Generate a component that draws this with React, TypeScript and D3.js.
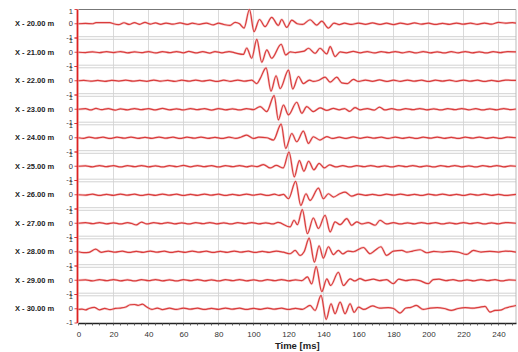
import React, { useEffect, useRef } from 'react'
import * as d3 from 'd3'

// receiver offsets (m), one trace per offset
const offsets = ['20.00', '21.00', '22.00', '23.00', '24.00', '25.00', '26.00', '27.00', '28.00', '29.00', '30.00']
const timeTicks = [0, 20, 40, 60, 80, 100, 120, 140, 160, 180, 200, 220, 240]
const ampTicks = [-1, 0, 1]

// [time ms, normalised amplitude] (peaks and troughs)
const trace20 = [[0,0],[4,0.02],[8,0],[10,0.08],[18,0.08],[20,0],[23,-0.06],[26,0.07],[29,-0.05],[32,0.08],[35,-0.04],[38,0.1],[41,-0.02],[44,0.06],[47,-0.04],[50,0.05],[54,-0.03],[58,0.06],[62,-0.05],[65,0.04],[69,-0.04],[73,0.05],[77,-0.08],[80,0.04],[83,-0.05],[86.6,-0.12],[89.5,0.1],[92,0.0],[94.6,-0.3],[97.7,1.0],[100.3,-0.55],[103.4,0.3],[106.6,-0.2],[110.4,0.45],[114.2,-0.12],[116.1,0.3],[119,-0.25],[121.9,0.25],[125,0],[128,-0.05],[132.3,0.28],[136.1,-0.1],[139,0.18],[142.8,-0.3],[146,0.05],[149,-0.06],[152,0.04],[156,-0.05],[160,0.05],[164,-0.04],[168,0.06],[172,-0.05],[176,0.04],[180,-0.06],[184,0.05],[188,-0.04],[192,0.06],[196,-0.03],[200,0.04],[204,-0.05],[208,0.03],[212,-0.04],[216,0.05],[220,-0.03],[224,0.04],[228,-0.04],[232,0.05],[236,-0.03],[240,0.1],[244,0.04],[248,0.08],[250,0.05]]
const trace21 = [[0,0],[4,-0.02],[8,0.03],[12,-0.03],[16,0.04],[20,-0.02],[24,0.05],[28,-0.04],[32,0.03],[36,-0.03],[40,0.05],[44,-0.05],[48,0.04],[52,-0.03],[56,0.05],[60,-0.04],[63,0.06],[67,-0.05],[71,0.04],[75,-0.06],[78,0.05],[82,-0.04],[86,0.05],[90,-0.06],[94.2,-0.15],[96.1,0.3],[99,-0.42],[101.9,0.91],[104.7,-0.7],[107.6,0.16],[110.4,-0.42],[115.8,0.56],[118.4,-0.19],[121,0.02],[124,-0.02],[126.6,0.03],[129,0.08],[131.4,0.28],[135.2,-0.08],[138,0.28],[141.9,-0.12],[143.8,0.4],[146.6,-0.3],[149.5,0.02],[153,-0.04],[157,0.06],[161,-0.04],[165,0.05],[169,-0.05],[173,0.04],[177,-0.03],[181,0.05],[185,-0.04],[189,0.04],[193,-0.05],[197,0.05],[201,-0.04],[205,0.03],[209,-0.05],[213,0.04],[217,-0.04],[221,0.05],[225,-0.04],[229,0.03],[233,-0.05],[237,0.04],[241,-0.03],[245,0.04],[250,0.02]]
const trace22 = [[0,0],[3,0.03],[7,-0.03],[11,0.02],[15,-0.04],[19,0.03],[23,-0.02],[27,0.04],[31,-0.03],[35,0.02],[39,-0.04],[43,0.05],[47,-0.03],[51,0.03],[55,-0.04],[59,0.04],[63,-0.03],[67,0.05],[71,-0.03],[75,0.04],[79,-0.05],[83,0.04],[87,-0.04],[91,0.05],[95,-0.03],[99,0.04],[101.9,-0.2],[103.8,0.15],[107.2,0.91],[110,-0.73],[112.9,0.35],[115.2,-0.55],[120,0.75],[122.4,-0.58],[125.7,0.3],[128.5,-0.2],[132,0.05],[134.2,-0.05],[137,0.02],[140.9,0.25],[143.8,-0.1],[147.6,0.25],[150.4,-0.15],[153.7,-0.2],[157.1,0.1],[160,-0.05],[164,0.05],[168,-0.04],[172,0.06],[176,-0.05],[180,0.04],[184,-0.04],[188,0.05],[192,-0.03],[196,0.04],[200,-0.05],[204,0.04],[208,-0.03],[212,0.04],[216,-0.04],[220,0.05],[224,-0.03],[228,0.04],[232,-0.05],[236,0.03],[240,-0.04],[244,0.05],[250,0.02]]
const trace23 = [[0,0],[4,0.04],[7,-0.05],[10,0.06],[13,-0.03],[17,0.05],[21,-0.06],[24,0.03],[28,-0.04],[32,0.05],[36,-0.03],[40,0.04],[44,-0.05],[48,0.06],[52,-0.04],[56,0.03],[60,-0.05],[64,0.05],[68,-0.03],[72,0.04],[76,-0.06],[80,0.05],[84,-0.04],[88,0.03],[92,-0.05],[96,0.04],[100,-0.03],[103.8,0.19],[107.6,-0.16],[111.8,0.96],[114.2,-0.75],[117.1,0.3],[120,-0.4],[124.7,0.49],[127.6,-0.28],[130.4,0.19],[134.2,-0.16],[138,0.1],[141.9,-0.08],[145.7,0.06],[149,-0.04],[152,0.05],[155,-0.15],[158,0.12],[161,-0.04],[165,0.05],[169,-0.06],[172,0.15],[175,-0.05],[179,0.04],[183,-0.05],[187,0.04],[191,-0.03],[195,0.05],[199,-0.04],[203,0.03],[207,-0.05],[211,0.04],[215,-0.03],[219,0.05],[223,-0.04],[227,0.04],[231,-0.05],[235,0.03],[239,-0.04],[243,0.05],[247,-0.03],[250,0.02]]
const trace24 = [[0,0],[3,-0.04],[6,0.05],[10,-0.03],[14,0.04],[18,-0.05],[22,0.04],[26,-0.03],[30,0.05],[34,-0.04],[38,0.03],[42,-0.04],[46,0.05],[50,-0.03],[54,0.04],[58,-0.05],[62,0.04],[66,-0.03],[70,0.05],[74,-0.04],[78,0.03],[82,-0.05],[86,0.04],[90,-0.04],[93,0.05],[96.1,0.19],[99.9,-0.05],[103,0.04],[107.6,0],[111.4,-0.16],[115.8,0.96],[118.4,-0.75],[121.9,0.3],[124.7,-0.28],[128.5,0.47],[131.4,-0.4],[134.2,0.07],[138,-0.16],[141.9,0.08],[145,-0.05],[149,0.04],[153,-0.05],[157,0.06],[161,-0.04],[165,0.05],[169,-0.03],[173,0.04],[177,-0.05],[181,0.05],[185,-0.04],[189,0.03],[193,-0.05],[197,0.04],[201,-0.03],[205,0.05],[209,-0.04],[213,0.03],[217,-0.05],[221,0.04],[225,-0.03],[229,0.05],[233,-0.04],[237,0.03],[241,-0.05],[245,0.04],[250,0]]
const trace25 = [[0,0],[4,0.03],[8,-0.04],[12,0.05],[16,-0.03],[20,0.04],[24,-0.05],[28,0.04],[32,-0.03],[36,0.05],[40,-0.04],[44,0.03],[48,-0.05],[52,0.04],[56,-0.03],[60,0.06],[64,-0.04],[68,0.05],[72,-0.03],[76,0.04],[80,-0.05],[84,0.04],[88,-0.03],[92,0.05],[96,-0.04],[99,0.03],[102,-0.03],[105.7,0.12],[109.5,-0.12],[113,0.06],[117,-0.12],[120.3,1.0],[123.3,-0.75],[126.2,0.4],[128.8,-0.35],[131.5,0.35],[134.5,-0.25],[137.5,0.2],[140.5,-0.12],[143.5,0.1],[147,-0.05],[151,0.04],[155,-0.05],[159,0.04],[163,-0.03],[167,0.05],[171,-0.04],[175,0.03],[179,-0.05],[183,0.04],[187,-0.03],[191,0.05],[195,-0.04],[199,0.03],[203,-0.05],[207,0.04],[211,-0.03],[215,0.05],[219,-0.04],[223,0.03],[227,-0.05],[231,0.04],[235,-0.03],[239,0.05],[243,-0.04],[247,0.03],[250,0]]
const trace26 = [[0,0],[4,-0.03],[8,0.04],[12,-0.05],[16,0.03],[20,-0.04],[24,0.05],[28,-0.03],[32,0.04],[36,-0.05],[40,0.03],[44,-0.04],[48,0.05],[52,-0.03],[56,0.04],[60,-0.05],[64,0.03],[68,-0.04],[72,0.05],[76,-0.03],[80,0.04],[84,-0.05],[88,0.03],[92,-0.04],[96,0.05],[100,-0.03],[104,0.04],[108,-0.05],[112,0.04],[114.5,-0.04],[117.1,0.03],[120,-0.28],[124.1,0.94],[127,-0.75],[130,0.07],[132.3,-0.4],[137.1,0.47],[139.9,-0.28],[142.8,0.07],[145.7,-0.16],[149,0.05],[152.3,0.19],[156.1,-0.1],[160,0.05],[164,-0.04],[168,0.03],[172,-0.05],[176,0.04],[180,-0.03],[184,0.05],[188,-0.04],[192,0.03],[196,-0.05],[200,0.04],[204,-0.03],[208,0.05],[212,-0.04],[216,0.03],[220,-0.05],[224,0.04],[228,-0.03],[232,0.05],[236,-0.04],[240,0.03],[244,-0.05],[250,0.02]]
const trace27 = [[0,0],[4,0.04],[8,-0.03],[12,0.05],[16,-0.04],[20,0.03],[24,-0.05],[28,0.04],[30.5,-0.02],[33,-0.12],[36,0.08],[39,-0.05],[43,0.04],[47,-0.03],[51,0.05],[55,-0.04],[59,0.03],[63,-0.05],[67,0.04],[71,-0.03],[75,0.05],[79,-0.04],[83,0.03],[87,-0.05],[91,0.04],[95,-0.03],[99,0.05],[103,-0.04],[107,0.03],[111,-0.05],[114,0.06],[120.9,-0.26],[123.2,0.21],[125.1,-0.1],[127.9,0.96],[130.8,-0.73],[134.2,0.37],[137.1,-0.37],[140.9,0.56],[143.8,-0.61],[146.6,0.1],[149.5,-0.1],[153.3,0.33],[156.1,-0.14],[159,0.1],[162,-0.05],[165.5,0.05],[169.5,-0.14],[172.3,0.21],[176,-0.05],[180,0.04],[184,-0.05],[188,0.03],[192,-0.04],[196,0.05],[200,-0.03],[204,0.04],[208,-0.05],[212,0.03],[216,-0.04],[220,0.05],[224,-0.03],[228,0.04],[232,-0.05],[236,0.03],[240,-0.04],[244,0.05],[250,0]]
const trace28 = [[0,0],[3,-0.06],[6,-0.04],[9.8,0.18],[13,-0.04],[17,0.05],[21,-0.03],[25,0.04],[29,-0.05],[33,0.03],[37,-0.04],[41,0.05],[45,-0.03],[49,0.04],[53,-0.05],[57,0.03],[61,-0.04],[65,0.05],[69,-0.03],[73,0.04],[77,-0.05],[81,0.03],[85,-0.04],[89,0.05],[93,-0.03],[97,0.04],[101,-0.05],[105,0.03],[109,-0.04],[113,0.05],[117,-0.03],[120.9,-0.14],[123.8,0.09],[126.6,-0.26],[129,0.02],[131.8,0.96],[134.8,-0.73],[137.5,0.42],[139.9,-0.45],[142.8,0.35],[145.7,-0.2],[148.5,0.1],[151,-0.15],[154,0.05],[157,0],[162.8,0.3],[166.6,-0.14],[169,0.05],[172.8,0.35],[176,-0.26],[180,0.05],[184.8,0.1],[187.6,-0.03],[191,0.05],[195.2,0.14],[199,-0.07],[203,0.02],[208,-0.02],[213,0.03],[217,-0.03],[221.8,-0.19],[225.7,0.09],[230,-0.02],[235,0.03],[240,-0.02],[244,0.05],[250,-0.02]]
const trace29 = [[0,0],[4,0.03],[8,-0.04],[12,0.04],[16,-0.03],[20,0.05],[24,-0.04],[28,0.03],[32,-0.05],[36,0.04],[40,-0.03],[44,0.05],[48,-0.04],[52,0.03],[56,-0.05],[60,0.04],[64,-0.03],[68,0.05],[72,-0.04],[76,0.03],[80,-0.05],[84,0.04],[88,-0.03],[92,0.05],[96,-0.04],[100,0.03],[104,-0.05],[108,0.04],[112,-0.03],[116,0.05],[120,-0.04],[124,0.03],[127.5,-0.03],[130.8,0.23],[133.3,-0.26],[135.8,0.96],[139,-0.8],[141.9,0.1],[144.1,-0.37],[148.5,0.56],[151.4,-0.37],[155.2,0.1],[158,-0.05],[160.8,0.12],[164,-0.03],[168.5,0.08],[172,-0.03],[176,0.04],[179.9,-0.24],[183,0.08],[187,-0.03],[191,0.04],[195,-0.03],[199.9,-0.24],[202.7,0.05],[206,0.08],[210,-0.03],[214,0.04],[218,-0.05],[222,0.03],[226,-0.04],[230,0.05],[234,-0.03],[238,0.04],[242,-0.05],[246,0.03],[250,0]]
const trace30 = [[0,-0.05],[2,-0.02],[4,-0.08],[6,0.02],[9,0.1],[12,-0.08],[15,0.02],[18,-0.06],[21,0.02],[24,0.05],[27,0.12],[29.5,0.28],[32,0.3],[34,0.24],[36.5,0.32],[39,0.12],[42,-0.05],[45,0.05],[48,-0.06],[52,0.04],[56,-0.05],[60,0.05],[64,-0.03],[68,0.04],[72,-0.05],[76,0.03],[80,-0.04],[84,0.05],[88,-0.03],[92,0.04],[96,-0.05],[100,0.03],[104,-0.04],[108,0.05],[112,-0.03],[116,0.04],[120,-0.05],[124,0.03],[128,-0.04],[132.3,0.23],[135.2,-0.12],[138.6,0.94],[141.5,-0.75],[144.3,0.35],[146.6,-0.35],[149.5,0.47],[152.3,-0.35],[155.2,0.35],[157.5,-0.25],[160,0.12],[163,-0.05],[168,0.2],[172,0.05],[177,0.08],[180,0.02],[183.7,-0.3],[187,0.05],[190,0.1],[193,0.23],[197,-0.05],[201,0.05],[205,0.08],[209,0.02],[213,-0.12],[217,0.02],[221,0.08],[225,0.04],[229,0.1],[232.3,0.16],[235.1,-0.23],[238,-0.12],[241,-0.1],[244,0.05],[247,0.15],[250,0.23]]

const traces = [trace20, trace21, trace22, trace23, trace24, trace25, trace26, trace27, trace28, trace29, trace30]

export default function App(){
  const svgRef = useRef(null)

  useEffect(()=>{
    const width = 518, height = 352
    const m = {top:9.5, right:2, bottom:29, left:78.5}
    const font = '"Liberation Sans", Arial, sans-serif'
    const svg = d3.select(svgRef.current)
      .attr('width', width)
      .attr('height', height)
      .style('position','absolute').style('left',0).style('top',0)
      .style('background','#fff')
    svg.selectAll('*').remove()

    const x = d3.scaleLinear().domain([0, 250]).range([m.left, width - m.right])
    const bands = d3.scaleBand().domain(offsets).range([m.top, height - m.bottom])
    const bh = bands.bandwidth()
    const yFor = (off: string) => d3.scaleLinear().domain([-1, 1]).range([bands(off)! + bh, bands(off)!])

    // vertical grid
    svg.append('g').selectAll('line')
      .data(timeTicks.filter(t=>t>0))
      .join('line')
        .attr('x1', d=>x(d)).attr('x2', d=>x(d))
        .attr('y1', m.top).attr('y2', height - m.bottom)
        .attr('stroke','#dadada').attr('stroke-width',1)

    // band separators (double grey line)
    const seps = offsets.slice(1).map(o=>bands(o)!)
    svg.append('g').selectAll('line')
      .data(seps.flatMap(s=>[s - 1.3, s + 1.3]))
      .join('line')
        .attr('x1', m.left).attr('x2', width - m.right)
        .attr('y1', d=>d).attr('y2', d=>d)
        .attr('stroke','#d2d2d2').attr('stroke-width',1)

    // frame
    svg.append('line')
      .attr('x1', m.left).attr('x2', width - m.right)
      .attr('y1', m.top).attr('y2', m.top)
      .attr('stroke','#777')
    svg.append('line')
      .attr('x1', width - m.right).attr('x2', width - m.right)
      .attr('y1', m.top).attr('y2', height - m.bottom)
      .attr('stroke','#bbb')

    // bottom axis
    const xAxis = svg.append('g')
      .attr('transform',`translate(0,${height - m.bottom})`)
      .call(d3.axisBottom(x).tickValues(timeTicks).tickSize(0).tickPadding(8))
    xAxis.select('.domain').attr('stroke','#222').attr('stroke-width',1.3)
    xAxis.selectAll('text').attr('fill','#333').attr('font-size',8).attr('font-family',font)
    svg.append('g').selectAll('line')
      .data(d3.range(0, 251, 4))
      .join('line')
        .attr('x1', d=>x(d)).attr('x2', d=>x(d))
        .attr('y1', height - m.bottom).attr('y2', height - m.bottom + 2.5)
        .attr('stroke','#444').attr('stroke-width',0.8)

    svg.append('text')
      .attr('x', (m.left + width - m.right)/2)
      .attr('y', 349)
      .attr('text-anchor','middle')
      .attr('font-family',font).attr('font-size',9.5).attr('font-weight','bold')
      .attr('fill','#222')
      .text('Time [ms]')

    // bands: labels, amplitude ticks, traces
    const line = d3.line().curve(d3.curveMonotoneX)
    offsets.forEach((off, i)=>{
      const y = yFor(off)
      const g = svg.append('g')
      g.selectAll('text.amp')
        .data(ampTicks)
        .join('text')
          .attr('class','amp')
          .attr('x', 73)
          .attr('y', d=> d === 1 ? y(d) + 2 : d === -1 ? y(d) - 1 : y(d))
          .attr('dy','0.35em')
          .attr('text-anchor','end')
          .attr('font-family',font).attr('font-size',7.5)
          .attr('fill','#333')
          .text(d=>d)
      g.selectAll('line.amp')
        .data(ampTicks)
        .join('line')
          .attr('class','amp')
          .attr('x1', 74.5).attr('x2', 77.5)
          .attr('y1', d=>y(d)).attr('y2', d=>y(d))
          .attr('stroke','#d33').attr('stroke-width',0.9)
      g.append('text')
        .attr('x', 15)
        .attr('y', y(0))
        .attr('dy','0.35em')
        .attr('font-family',font).attr('font-size',7.5).attr('font-weight','bold')
        .attr('fill','#222')
        .text(`X - ${off} m`)

      const pts = traces[i].map(([t, v])=>[x(t), y(v)] as [number, number])
      g.append('path')
        .attr('d', line(pts))
        .attr('fill','none')
        .attr('stroke','#f2aaaa')
        .attr('stroke-width',2.4)
        .attr('opacity',0.6)
      g.append('path')
        .attr('d', line(pts))
        .attr('fill','none')
        .attr('stroke','#d93c3c')
        .attr('stroke-width',1.2)
    })

    // red left spine
    svg.append('line')
      .attr('x1', m.left - 1).attr('x2', m.left - 1)
      .attr('y1', m.top).attr('y2', height - m.bottom)
      .attr('stroke','#d22').attr('stroke-width',1.8)
  },[])

  return <svg ref={svgRef}></svg>
}
